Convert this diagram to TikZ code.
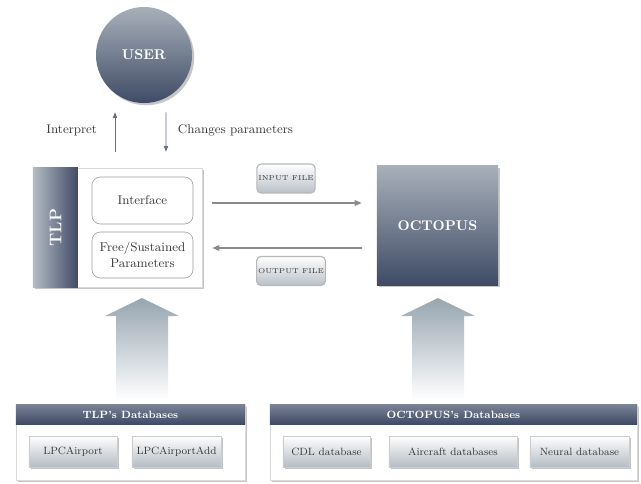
\documentclass[tikz,border=0pt]{standalone}
\usepackage{tikz}
\usetikzlibrary{shapes,arrows,positioning,calc,shadows,arrows.meta}

\definecolor{navy}{HTML}{3F4B66}
\definecolor{slate}{HTML}{A7B0B9}
\definecolor{linegray}{HTML}{8A8A8A}
\definecolor{arrowblue}{HTML}{97A5B0}
\definecolor{boxline}{HTML}{9A9A9A}
\definecolor{txtgray}{HTML}{3A3A3A}

\begin{document}
\begin{tikzpicture}[x=0.025cm, y=-0.025cm, font=\small, text=txtgray,
    boxshadow/.style={drop shadow={opacity=0.45, shadow xshift=1.6pt, shadow yshift=-1.6pt}},
    darkbox/.style={boxshadow, top color=slate, bottom color=navy, text=white, font=\bfseries},
    roundbox/.style={draw=boxline, rounded corners=6pt, fill=white, minimum width=2.525cm, align=center},
    filetag/.style={draw=boxline!70, line width=0.8pt, rounded corners=3pt, top color=white, bottom color=slate!80,
        minimum width=1.45cm, minimum height=0.725cm, inner sep=1pt, font=\fontsize{5}{6}\selectfont},
    headbar/.style={top color=navy!70, bottom color=navy, text=white, font=\fontsize{7.5}{9}\selectfont\bfseries,
        minimum height=0.475cm, inner sep=0pt},
    dbitem/.style={boxshadow, top color=white, bottom color=slate!85, draw=black!20, minimum height=0.775cm,
        font=\fontsize{7.5}{9}\selectfont},
    flow/.style={draw=linegray, line width=0.8pt, -{Triangle[length=5pt,width=4pt]}},
    userflow/.style={draw=navy!80, line width=0.6pt, -{Triangle[length=4pt,width=3pt]}},
    bigarrow/.style={top color=arrowblue, bottom color=white}]
    \useasboundingbox (0,0) rectangle (641,483);

    % User
    \node[darkbox, circle, minimum size=2.4cm, inner sep=0pt] (user) at (144,55) {USER};

    % TLP block
    \node[boxshadow, fill=white, draw=black!15, minimum width=4.225cm, minimum height=2.975cm] (tlp) at (117.5,227.5) {};
    \node[left color=slate!85, right color=navy, minimum width=1.125cm, minimum height=2.975cm, anchor=west] (tlpbar) at (tlp.west) {};
    \node[rotate=90, text=white, font=\large\bfseries] (tlplabel) at (tlpbar) {TLP};
    \node[roundbox, minimum height=1.175cm] (interface) at (142.5,200.5) {Interface};
    \node[roundbox, minimum height=1.15cm] (params) at (142.5,255) {Free/Sustained\\Parameters};

    % Octopus
    \node[darkbox, minimum width=3.025cm, minimum height=2.975cm] (octopus) at (437.5,225.5) {OCTOPUS};

    % Files exchanged
    \node[filetag] (infile) at (286,178.5) {INPUT FILE};
    \node[filetag] (outfile) at (291,271) {OUTPUT FILE};
    \draw[flow] ($(tlp.east)+(10,-24.5)$) -- ($(octopus.west)+(-15,-22.5)$);
    \draw[flow] ($(octopus.west)+(-15,22.5)$) -- ($(tlp.east)+(10,20.5)$);

    % User interaction
    \draw[userflow] ($(tlp.north)+(-2.5,-16)$) -- ($(user.south)+(-29,9)$);
    \draw[userflow] ($(user.south)+(22,9)$) -- ($(tlp.north)+(48.5,-16)$);
    \node[anchor=east] (interp) at (102,130) {Interpret};
    \node[anchor=west] (changes) at (173,130) {Changes parameters};

    % Big arrows from the databases
    \foreach \c in {142,438}
        \shade[bigarrow] (\c-26,400) -- (\c-26,316) -- (\c-37,316) -- (\c,298) -- (\c+37,316) -- (\c+26,316) -- (\c+26,400) -- cycle;

    % TLP's databases
    \node[boxshadow, fill=white, draw=black!15, minimum width=5.725cm, minimum height=1.875cm] (tlpdb) at (130.5,442.5) {};
    \node[headbar, minimum width=5.725cm, anchor=north] (tlpdbhead) at (tlpdb.north) {TLP's Databases};
    \node[dbitem, minimum width=2.2cm] (lpc) at (73,451.5) {LPCAirport};
    \node[dbitem, minimum width=2.075cm] (lpcadd) at (176.5,451.5) {LPCAirportAdd};

    % OCTOPUS's databases
    \node[boxshadow, fill=white, draw=black!15, minimum width=9.175cm, minimum height=1.875cm] (octdb) at (453.5,442.5) {};
    \node[headbar, minimum width=9.175cm, anchor=north] (octdbhead) at (octdb.north) {OCTOPUS's Databases};
    \foreach \x/\w/\n/\t in {326.5/2.175/cdl/CDL database, 453/3.2/aircraft/Aircraft databases, 579.5/2.475/neural/Neural database}
        \node[dbitem, minimum width=\w cm] (\n) at (\x,451.5) {\t};
\end{tikzpicture}
\end{document}
